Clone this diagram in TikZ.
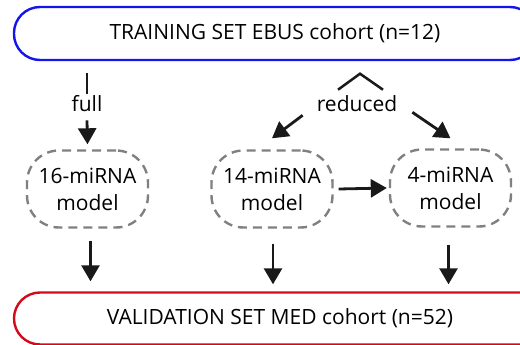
\documentclass[tikz,border=0pt]{standalone}
\usepackage{fontspec}
\setmainfont{Open Sans}
\usetikzlibrary{arrows.meta,calc}
\definecolor{tblue}{RGB}{20,20,235}
\definecolor{vred}{RGB}{210,10,25}
\definecolor{dgray}{RGB}{128,128,128}
\definecolor{ink}{RGB}{25,25,25}
\tikzset{
  bigbox/.style={draw, line width=2.4pt, rounded corners=26pt, minimum height=53pt, font=\fontsize{21}{24}\selectfont, inner sep=0pt},
  model/.style={draw=dgray, line width=2.4pt, dash pattern=on 9pt off 6pt, rounded corners=32pt, minimum width=121pt, minimum height=77pt, align=center, font=\fontsize{21}{27}\selectfont, inner sep=0pt},
  lbl/.style={font=\fontsize{21}{24}\selectfont, inner sep=0pt},
  arr/.style={draw=ink, fill=ink, line width=2.8pt, -{Triangle[length=16pt,width=18pt]}},
  ln/.style={draw=ink, line width=2.5pt}
}
\begin{document}
\begin{tikzpicture}[x=1pt,y=-1pt]
\useasboundingbox (0,0) rectangle (520,345);
\clip (0,0) rectangle (520,345);
\node[bigbox, draw=tblue, minimum width=522pt] (train) at (275,33.5) {TRAINING SET EBUS cohort (n=12)};
\node[bigbox, draw=vred, minimum width=532pt, minimum height=52pt] (valid) at (280,318.5) {VALIDATION SET MED cohort (n=52)};
\node[lbl] (full) at (87,104) {full};
\node[lbl] (reduced) at (357,104) {reduced};
\node[model] (m16) at (87.5,189) {16-miRNA\\model};
\node[model] (m14) at (272,189) {14-miRNA\\model};
\node[model] (m4) at (450.5,188) {4-miRNA\\model};
% full branch
\draw[ln] ([yshift=-12pt]train.south -| full.north) -- ([yshift=2pt]full.north);
\draw[arr] ([yshift=-8pt]full.south) -- ([yshift=5pt]m16.north);
% reduced caret
\coordinate (apex) at ($(reduced.north)+(3,-22)$);
\draw[ln] ($(reduced.north)+(-19,-6)$) -- (apex) -- ($(reduced.north)+(26,-6)$);
\draw[arr] ([xshift=-14pt,yshift=-3pt]reduced.south west) -- ([yshift=11pt]m14.north);
\draw[arr] ([xshift=15pt]reduced.south east) -- ([yshift=10pt]m4.north);
\draw[arr] ([xshift=5pt]m14.east) -- ([xshift=-2pt]m4.west);
% down arrows
\draw[arr] ([xshift=3pt,yshift=-12pt]m16.south) -- ([xshift=3pt,yshift=10pt]m16.south |- valid.north);
\draw[arr] ([xshift=1pt,yshift=-15pt]m14.south) -- ([xshift=1pt,yshift=7pt]m14.south |- valid.north);
\draw[arr] ([xshift=-2pt,yshift=-17pt]m4.south) -- ([xshift=-2pt,yshift=7pt]m4.south |- valid.north);
\end{tikzpicture}
\end{document}
